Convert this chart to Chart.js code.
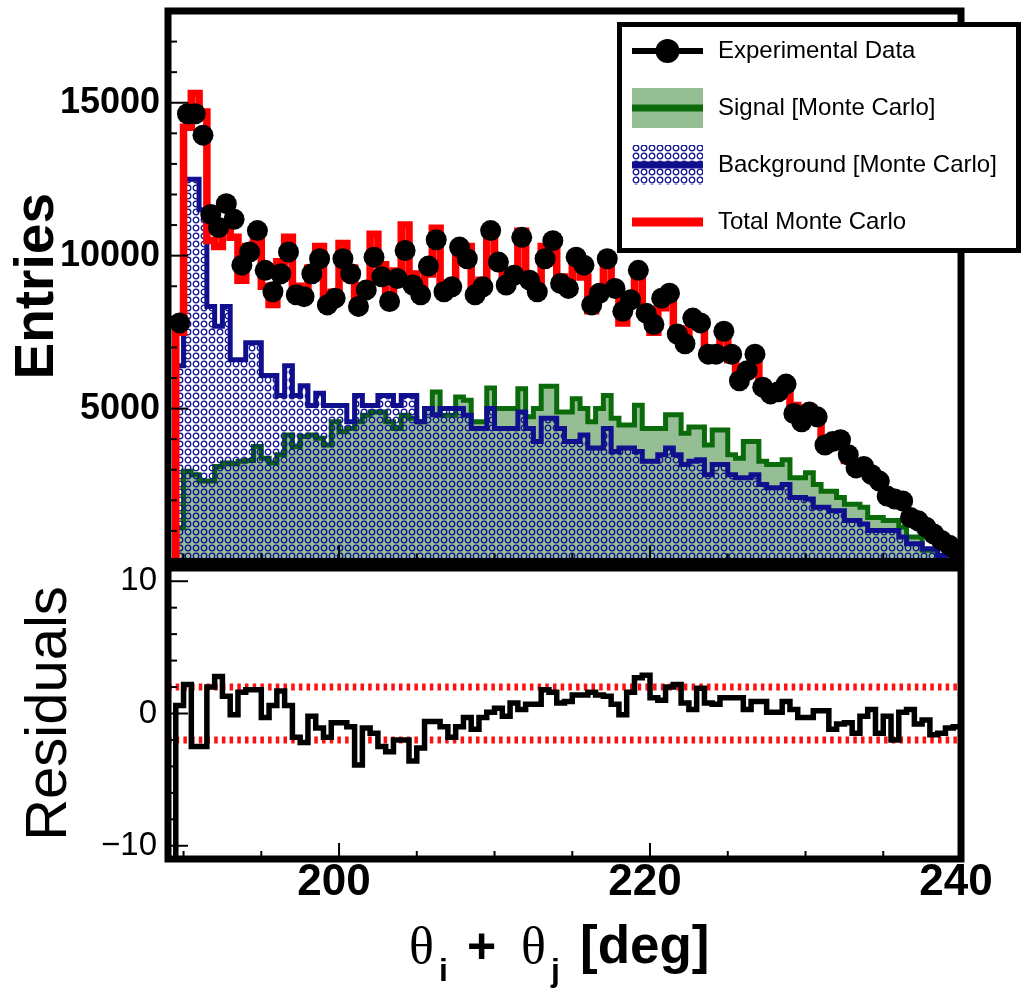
<!DOCTYPE html>
<html>
<head>
<meta charset="utf-8">
<script src="https://cdn.jsdelivr.net/npm/chart.js@4.4.1/dist/chart.umd.min.js"></script>
<style>
  html, body { margin: 0; padding: 0; background: #fff; }
  #wrap { position: relative; width: 1026px; height: 993px; overflow: hidden; }
  canvas { position: absolute; left: 0; }
  #top { top: 0; }
  #bottom { top: 564px; }
</style>
</head>
<body>
<div id="wrap">
  <canvas id="top" width="1026" height="572"></canvas>
  <canvas id="bottom" width="1026" height="429"></canvas>
</div>
<script>
// x axis and binning (deg)
const xRange = [189, 240];
const binStart = 189.5;
const binWidth = 0.5;
const entriesRange = [0, 18000];
const residualRange = [-11, 11];
const xTickLabels = [200, 220, 240];
const entriesTickLabels = [5000, 10000, 15000];
const residualTickLabels = [-10, 0, 10];

// one value per 0.5 deg bin, 189.5 .. 240
const dataCounts = [
  7800, 14640, 14640, 13940, 11350, 10920, 11700, 11190, 9690, 10120,
  10820, 9520, 8820, 9410, 10120, 8720, 8660, 9410, 9900, 8390,
  8610, 9900, 9410, 8340, 8880, 9950, 9310, 8500, 9250, 10170,
  9040, 8720, 9660, 10520, 8820, 8980, 10280, 9900, 8720, 8980,
  10820, 9790, 9040, 9360, 10600, 9200, 8820, 9900, 10490, 9090,
  8930, 9950, 9690, 8390, 8770, 9900, 8930, 8180, 8560, 9520,
  8120, 7750, 8610, 8770, 7440, 7120, 7960, 7800, 6780, 6780,
  7530, 6780, 5910, 6240, 6780, 5700, 5480, 5550, 5800, 4840,
  4570, 4890, 4730, 3810, 3920, 3980, 3490, 3060, 3110, 2840,
  2630, 2140, 2040, 1980, 1440, 1330, 1120, 900, 690, 530,
  310
];
const totalMC = [
  7500, 14200, 15300, 14700, 10500, 10300, 10900, 10600, 9200, 10300,
  10500, 9000, 8400, 9800, 10600, 9000, 8700, 9600, 10300, 8300,
  8800, 10400, 9600, 8500, 9000, 10700, 9700, 8700, 9500, 11000,
  9400, 8600, 9400, 10900, 9000, 9000, 10100, 10300, 8700, 9200,
  10700, 9900, 9000, 9400, 10800, 9300, 8800, 10300, 10600, 9300,
  8900, 10000, 9300, 8200, 8800, 9700, 8800, 7800, 8400, 9300,
  8100, 7500, 8300, 8700, 7600, 7100, 7700, 7800, 6900, 6900,
  7300, 6600, 6100, 6300, 6600, 5800, 5500, 5600, 5700, 5100,
  4600, 4900, 4600, 4000, 3900, 4000, 3300, 3100, 3100, 2800,
  2600, 2200, 2000, 1900, 1450, 1300, 1100, 850, 600, 450,
  250
];
const signalMC = [
  1100, 2950, 2840, 2630, 2630, 3110, 3220, 3200, 3280, 3300,
  3760, 3380, 3220, 3490, 4140, 3760, 4090, 4140, 4030, 3810,
  4570, 4240, 4350, 4570, 4780, 4890, 4890, 4570, 4350, 4780,
  4680, 4570, 5000, 5540, 4780, 4780, 5380, 5270, 4570, 4570,
  5670, 5000, 5000, 5000, 5650, 4730, 5000, 5730, 5730, 4890,
  4890, 5320, 5000, 4570, 5000, 5430, 4680, 4460, 4460, 5110,
  4350, 4350, 4350, 4800, 4800, 4190, 4400, 4400, 3810, 4300,
  4300, 3490, 3380, 3920, 3920, 3280, 3170, 3170, 3330, 2740,
  2740, 2900, 2520, 2300, 2300, 2090, 1870, 1870, 1770, 1440,
  1440, 1340, 1340, 1120, 800, 800, 370, 370, 150, 0,
  0
];
const backgroundMC = [
  6400, 12500, 12500, 11500, 8340, 7690, 8340, 6600, 6600, 7150,
  7150, 6080, 6080, 5430, 6400, 5430, 5750, 5100, 5500, 5100,
  5100, 5100, 4570, 5430, 5100, 5100, 5430, 5430, 5100, 5430,
  5430, 4570, 5000, 4800, 5000, 5000, 5000, 4780, 4350, 4350,
  5000, 4350, 4350, 4350, 4890, 4350, 3920, 4680, 4680, 4350,
  3920, 3920, 4140, 3710, 3710, 4350, 3600, 3710, 3710, 3600,
  3280, 3280, 3490, 3710, 3490, 3170, 3280, 3330, 2840, 3170,
  3170, 2840, 2740, 2740, 2840, 2520, 2410, 2410, 2520, 2090,
  2090, 2040, 1770, 1770, 1660, 1660, 1340, 1340, 1230, 1010,
  1010, 1010, 1010, 800, 580, 580, 420, 420, 200, 0,
  0
];
const residuals = [
  0.6, 2.2, -2.5, -2.5, 2.0, 2.8, 1.3, -0.1, 1.6, 1.8,
  1.8, -0.3, 0.6, 1.7, 0.6, -1.8, -2.2, -0.2, -1.1, -1.8,
  -0.7, -0.7, -1.0, -3.9, -1.1, -1.5, -2.5, -2.9, -2.0, -2.0,
  -3.6, -2.6, -0.6, -0.6, -1.0, -1.8, -1.0, -0.3, -1.2, -0.3,
  0.1, 0.4, -0.2, 0.8, 0.3, 0.7, 0.7, 1.8, 1.6, 0.8,
  0.9, 1.4, 1.4, 1.6, 1.4, 1.3, 0.7, -0.1, 1.6, 2.7,
  2.9, 1.2, 1.0, 2.0, 2.2, 0.8, 0.3, 1.9, 0.8, 0.7,
  1.2, 1.2, 1.2, 0.3, 0.9, 0.9, 0.1, 0.1, 0.9, 0.3,
  -0.3, -0.3, 0.2, 0.2, -1.2, -0.8, -0.7, -1.5, -0.2, 0.3,
  -1.5, -0.2, -2.0, 0.1, 0.3, -0.8, -0.5, -1.6, -1.5, -1.1,
  -1.0
];
const residualBand = [2, -2];
const legendItems = ['Experimental Data', 'Signal [Monte Carlo]', 'Background [Monte Carlo]', 'Total Monte Carlo'];

const SANS = "'Liberation Sans', Arial, Helvetica, sans-serif";
const SERIF = "'Liberation Serif', 'DejaVu Serif', serif";
Chart.defaults.font.family = SANS;
Chart.defaults.color = '#000';

const GREEN_FILL = 'rgba(20,110,20,0.45)';
const GREEN_LINE = '#0b6b0b';
const BLUE_LINE = '#10108f';

// ROOT style outline: rises from the baseline, steps per bin, drops back at the end
function histPoints(values, base) {
  const pts = [{x: binStart, y: base}];
  values.forEach((v, i) => pts.push({x: binStart + i * binWidth, y: v}));
  const end = binStart + values.length * binWidth;
  pts.push({x: end, y: values[values.length - 1]});
  pts.push({x: end, y: base});
  return pts;
}

function circlePattern(ctx) {
  const c = document.createElement('canvas');
  c.width = 8; c.height = 8;
  const g = c.getContext('2d');
  g.strokeStyle = BLUE_LINE;
  g.lineWidth = 1.3;
  g.beginPath(); g.arc(4, 4, 2.8, 0, Math.PI * 2); g.stroke();
  return ctx.createPattern(c, 'repeat');
}

const fixedTicks = list => s => { s.ticks = list.map(v => ({value: v})); };
const noPad = s => { s.paddingTop = 0; s.paddingBottom = 0; s.paddingLeft = 0; s.paddingRight = 0; };

// inward ticks + thick frame
const rootFrame = {
  id: 'rootFrame',
  afterDatasetsDraw(chart, args, opts) {
    const {ctx, chartArea: a, scales} = chart;
    ctx.save();
    ctx.strokeStyle = '#000';
    ctx.lineWidth = 2;
    for (let v = 190; v <= xRange[1]; v += 5) {
      const px = scales.x.getPixelForValue(v);
      const len = v % 20 === 0 ? 16 : 8;
      ctx.beginPath(); ctx.moveTo(px, a.bottom); ctx.lineTo(px, a.bottom - len); ctx.stroke();
    }
    for (let v = opts.yFrom; v <= opts.yTo; v += opts.yMinor) {
      const py = scales.y.getPixelForValue(v);
      const len = v % opts.yMajor === 0 ? 20 : 9;
      ctx.beginPath(); ctx.moveTo(a.left, py); ctx.lineTo(a.left + len, py); ctx.stroke();
    }
    ctx.lineWidth = 7;
    ctx.strokeRect(a.left, a.top, a.right - a.left, a.bottom - a.top);
    ctx.restore();
  }
};

const boxLegend = {
  id: 'boxLegend',
  afterDraw(chart) {
    const ctx = chart.ctx;
    const L = 617, T = 22, R = 1021, B = 253;
    const rowY = [51, 108, 165, 222];
    const s0 = 632, s1 = 703;
    ctx.save();
    ctx.fillStyle = '#fff';
    ctx.fillRect(L, T, R - L, B - T);
    ctx.lineWidth = 5; ctx.strokeStyle = '#000';
    ctx.strokeRect(L + 2.5, T + 2.5, R - L - 5, B - T - 5);

    ctx.lineWidth = 6;
    ctx.beginPath(); ctx.moveTo(s0, rowY[0]); ctx.lineTo(s1, rowY[0]); ctx.stroke();
    ctx.fillStyle = '#000';
    ctx.beginPath(); ctx.arc((s0 + s1) / 2, rowY[0], 12, 0, Math.PI * 2); ctx.fill();

    ctx.fillStyle = GREEN_FILL;
    ctx.fillRect(s0, rowY[1] - 20, s1 - s0, 40);
    ctx.strokeStyle = GREEN_LINE; ctx.lineWidth = 7;
    ctx.beginPath(); ctx.moveTo(s0, rowY[1]); ctx.lineTo(s1, rowY[1]); ctx.stroke();

    ctx.fillStyle = circlePattern(ctx);
    ctx.fillRect(s0, rowY[2] - 20, s1 - s0, 40);
    ctx.strokeStyle = BLUE_LINE; ctx.lineWidth = 7;
    ctx.beginPath(); ctx.moveTo(s0, rowY[2]); ctx.lineTo(s1, rowY[2]); ctx.stroke();

    ctx.strokeStyle = '#ff0000'; ctx.lineWidth = 9;
    ctx.beginPath(); ctx.moveTo(s0, rowY[3]); ctx.lineTo(s1, rowY[3]); ctx.stroke();

    ctx.fillStyle = '#000';
    ctx.font = '24px ' + SANS;
    ctx.textBaseline = 'middle';
    legendItems.forEach((t, i) => ctx.fillText(t, 718, rowY[i]));
    ctx.restore();
  }
};

const xTitle = {
  id: 'xTitle',
  afterDraw(chart) {
    const ctx = chart.ctx;
    const base = chart.chartArea.bottom + 104;
    ctx.save();
    ctx.fillStyle = '#000';
    ctx.textBaseline = 'alphabetic';
    ctx.font = '52px ' + SERIF; ctx.fillText('\u03b8', 409, base);
    ctx.font = 'bold 32px ' + SANS; ctx.fillText('i', 439, base + 18);
    ctx.font = 'bold 50px ' + SANS; ctx.fillText('+', 467, base);
    ctx.font = '52px ' + SERIF; ctx.fillText('\u03b8', 521, base);
    ctx.font = 'bold 32px ' + SANS; ctx.fillText('j', 551, base + 18);
    ctx.font = 'bold 53px ' + SANS; ctx.fillText('[deg]', 580, base);
    ctx.restore();
  }
};

const topCtx = document.getElementById('top').getContext('2d');
const hist = {stepped: true, pointRadius: 0, borderJoinStyle: 'miter', borderCapStyle: 'butt'};

new Chart(topCtx, {
  type: 'line',
  data: {
    datasets: [
      {label: legendItems[0], data: dataCounts.map((v, i) => ({x: binStart + (i + 0.5) * binWidth, y: v})),
       showLine: false, pointRadius: 10.5, pointBackgroundColor: '#000', pointBorderWidth: 0, order: 1},
      {label: legendItems[3], data: histPoints(totalMC, 0), ...hist, borderColor: '#ff0000', borderWidth: 7.5, fill: false, order: 2},
      {label: legendItems[2], data: histPoints(backgroundMC, 0), ...hist, borderColor: BLUE_LINE, borderWidth: 5,
       fill: 'origin', backgroundColor: circlePattern(topCtx), order: 3},
      {label: legendItems[1], data: histPoints(signalMC, 0), ...hist, borderColor: GREEN_LINE, borderWidth: 5,
       fill: 'origin', backgroundColor: GREEN_FILL, order: 4}
    ]
  },
  options: {
    responsive: false, animation: false, devicePixelRatio: 1, events: [],
    layout: {padding: {left: 0, right: 65, top: 11, bottom: 4}},
    plugins: {
      legend: {display: false}, tooltip: {enabled: false},
      rootFrame: {yFrom: 1000, yTo: 17000, yMinor: 1000, yMajor: 5000}
    },
    scales: {
      x: {type: 'linear', display: false, min: xRange[0], max: xRange[1]},
      y: {
        min: entriesRange[0], max: entriesRange[1],
        grid: {display: false, drawTicks: false}, border: {display: false},
        afterBuildTicks: fixedTicks(entriesTickLabels),
        afterFit: s => { noPad(s); s.width = 168; },
        ticks: {padding: 8, font: {size: 36, weight: 'bold'}, callback: v => String(v)},
        title: {display: true, text: 'Entries', font: {size: 55, weight: 'bold'}, padding: {top: 5, bottom: 0}}
      }
    }
  },
  plugins: [rootFrame, boxLegend]
});

new Chart(document.getElementById('bottom'), {
  type: 'line',
  data: {
    datasets: [
      {label: 'Residuals', data: histPoints(residuals, residualRange[0]), ...hist,
       borderColor: '#000', borderWidth: 5.5, fill: false, order: 1},
      ...residualBand.map(v => ({
        label: 'band ' + v, data: [{x: xRange[0], y: v}, {x: xRange[1], y: v}],
        borderColor: '#ff1010', borderWidth: 7, borderDash: [3.5, 4.2], pointRadius: 0, fill: false, order: 2
      }))
    ]
  },
  options: {
    responsive: false, animation: false, devicePixelRatio: 1, events: [],
    layout: {padding: {left: 0, right: 65, top: 4, bottom: 0}},
    plugins: {
      legend: {display: false}, tooltip: {enabled: false},
      rootFrame: {yFrom: -10, yTo: 10, yMinor: 2, yMajor: 10}
    },
    scales: {
      x: {
        type: 'linear', min: xRange[0], max: xRange[1],
        grid: {display: false, drawTicks: false}, border: {display: false},
        afterBuildTicks: fixedTicks(xTickLabels),
        afterFit: s => { noPad(s); s.height = 134; },
        ticks: {padding: 2, labelOffset: -5, maxRotation: 0, autoSkip: false,
                font: {size: 44, weight: 'bold', lineHeight: 1}, callback: v => String(v)}
      },
      y: {
        min: residualRange[0], max: residualRange[1],
        grid: {display: false, drawTicks: false}, border: {display: false},
        afterBuildTicks: fixedTicks(residualTickLabels),
        afterFit: s => { noPad(s); s.width = 168; },
        ticks: {padding: 11, font: {size: 33},
                callback: v => v < 0 ? '\u2212' + Math.abs(v) : String(v)},
        title: {display: true, text: 'Residuals', font: {size: 58, weight: 'normal'}, padding: {top: 15, bottom: 0}}
      }
    }
  },
  plugins: [rootFrame, xTitle]
});
</script>
</body>
</html>
